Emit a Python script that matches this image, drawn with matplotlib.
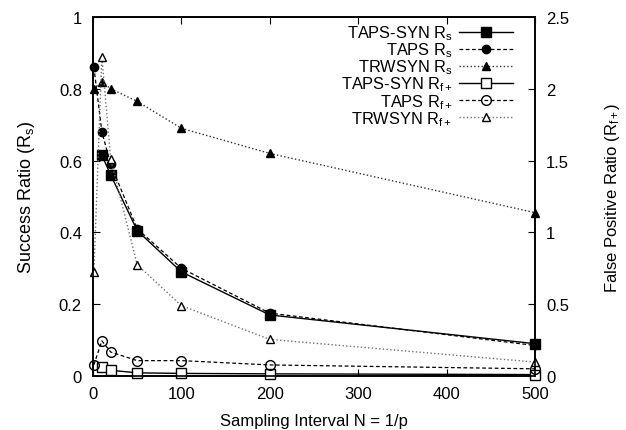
import matplotlib
matplotlib.use('Agg')
import matplotlib.pyplot as plt

plt.rcParams['font.family'] = ['Liberation Sans', 'DejaVu Sans']
plt.rcParams['mathtext.fontset'] = 'custom'
plt.rcParams['mathtext.rm'] = 'Liberation Sans'
plt.rcParams['mathtext.it'] = 'Liberation Sans'

# sampling intervals
interval = [1, 10, 20, 50, 100, 200, 500]
interval_syn = [10, 20, 50, 100, 200, 500]

# success ratio (left axis)
taps_syn_rs = [0.615, 0.56, 0.405, 0.29, 0.17, 0.09]
taps_rs = [0.86, 0.68, 0.59, 0.41, 0.30, 0.175, 0.085]
trwsyn_rs = [0.80, 0.82, 0.80, 0.765, 0.69, 0.62, 0.455]

# false positive ratio (right axis)
taps_syn_rf = [0.062, 0.040, 0.022, 0.018, 0.015, 0.010]
taps_rf = [0.078, 0.245, 0.167, 0.107, 0.107, 0.077, 0.05]
trwsyn_rf = [0.725, 2.225, 1.51, 0.775, 0.49, 0.255, 0.097]

fig = plt.figure(figsize=(6.26, 4.31), dpi=100)
ax1 = fig.add_axes([0.1486, 0.1253, 0.706, 0.8329])
ax2 = ax1.twinx()

l1, = ax1.plot(interval_syn, taps_syn_rs, '-', color='black', lw=1.0,
               marker='s', ms=7, mfc='black', clip_on=False,
               label='TAPS-SYN R$_\\mathrm{s}$')
l2, = ax1.plot(interval, taps_rs, '--', color='black', lw=0.9, dashes=(3, 2),
               marker='o', ms=6, mfc='black', clip_on=False,
               label='TAPS R$_\\mathrm{s}$')
l3, = ax1.plot(interval, trwsyn_rs, ':', color='#303030', lw=1.0,
               marker='^', ms=6, mfc='black', mec='black', clip_on=False,
               label='TRWSYN R$_\\mathrm{s}$')
l4, = ax2.plot(interval_syn, taps_syn_rf, '-', color='black', lw=1.0,
               marker='s', ms=7, mfc='white', mec='black', clip_on=False,
               label='TAPS-SYN R$_\\mathrm{f+}$')
l5, = ax2.plot(interval, taps_rf, '--', color='black', lw=0.9, dashes=(3, 2),
               marker='o', ms=7, mfc='none', mec='black', clip_on=False,
               label='TAPS R$_\\mathrm{f+}$')
l6, = ax2.plot(interval, trwsyn_rf, ':', color='#707070', lw=1.0,
               marker='^', ms=6, mfc='white', mec='black', clip_on=False,
               label='TRWSYN R$_\\mathrm{f+}$')

ax1.set_xlim(0, 500)
ax1.set_ylim(0, 1)
ax2.set_ylim(0, 2.5)
ax1.set_xticks([0, 100, 200, 300, 400, 500])
ax1.set_yticks([0, 0.2, 0.4, 0.6, 0.8, 1])
ax1.set_yticklabels(['0', '0.2', '0.4', '0.6', '0.8', '1'])
ax2.set_yticks([0, 0.5, 1, 1.5, 2, 2.5])
ax2.set_yticklabels(['0', '0.5', '1', '1.5', '2', '2.5'])

ax1.tick_params(axis='x', direction='in', top=True, length=5, labelsize=12, pad=7)
ax1.tick_params(axis='y', direction='in', right=False, length=5, labelsize=12, pad=8)
ax2.tick_params(axis='y', direction='in', length=5, labelsize=12, pad=8)
for ax in (ax1, ax2):
    for s in ax.spines.values():
        s.set_linewidth(1.2)

ax1.set_xlabel('Sampling Interval N = 1/p', fontsize=12, labelpad=9)
ax1.set_ylabel('Success Ratio (R$_\\mathrm{s}$)', fontsize=13, labelpad=16)
ax2.set_ylabel('False Positive Ratio (R$_\\mathrm{f+}$)', fontsize=12, labelpad=24)

handles = [l1, l2, l3, l4, l5, l6]
ax2.legend(handles=handles, labels=[h.get_label() for h in handles],
           loc='upper right', frameon=False, markerfirst=False, fontsize=11.8,
           handlelength=3.3, handletextpad=0.4, labelspacing=-0.1,
           borderaxespad=0.0, bbox_to_anchor=(0.965, 1.0))

fig.savefig('out.png', dpi=100)
